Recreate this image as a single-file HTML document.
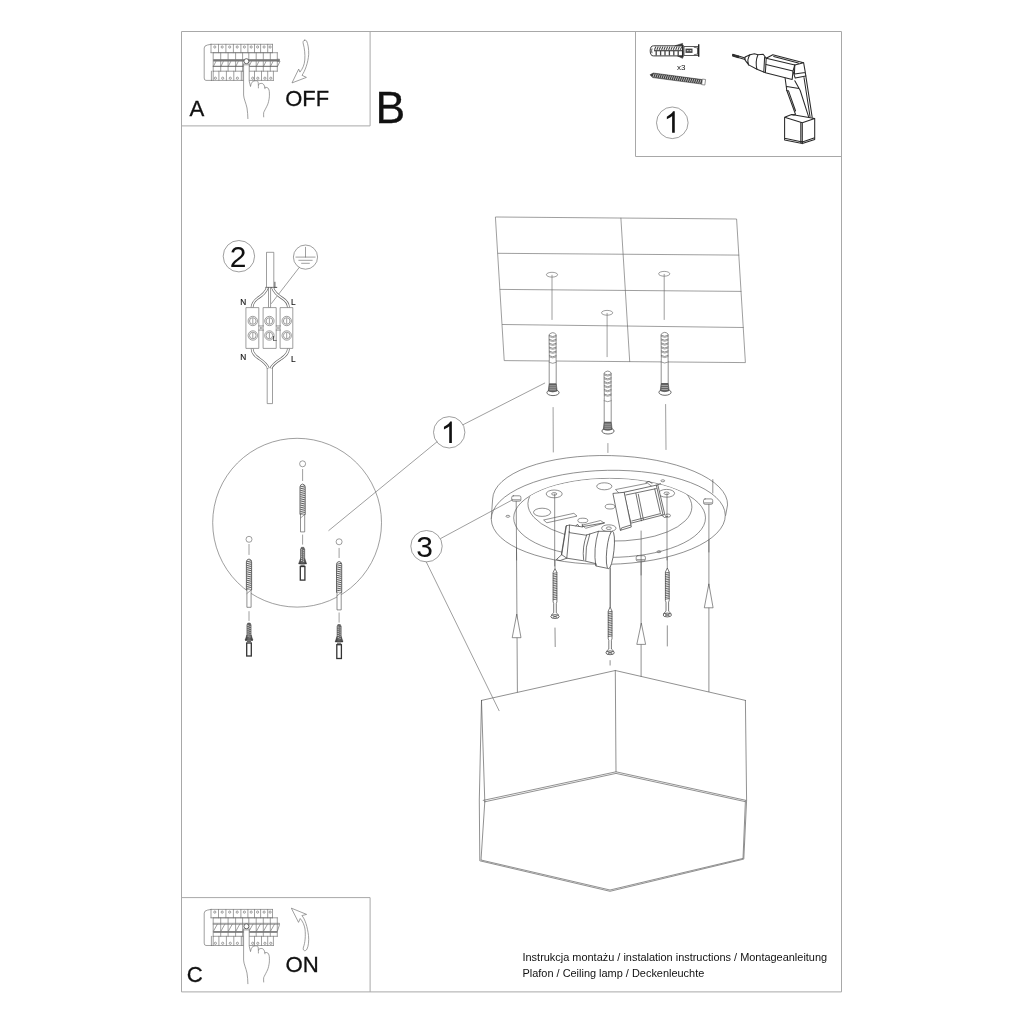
<!DOCTYPE html>
<html><head><meta charset="utf-8">
<style>
html,body{margin:0;padding:0;background:#fff;}
svg{display:block;position:absolute;left:0;top:0;will-change:transform;}
text{font-family:"Liberation Sans",sans-serif;fill:#111;}
.fr{stroke:#a8a8a8;stroke-width:1;fill:none;}
.l{stroke:#555;stroke-width:0.8;fill:none;stroke-linecap:round;stroke-linejoin:round;}
.lt{stroke:#6a6a6a;stroke-width:0.65;fill:none;stroke-linecap:round;stroke-linejoin:round;}
.lw{stroke:#6a6a6a;stroke-width:0.65;fill:#fff;stroke-linecap:round;stroke-linejoin:round;}
.b{stroke:#777;stroke-width:0.7;fill:none;stroke-linecap:round;stroke-linejoin:round;}
.bw{stroke:#777;stroke-width:0.7;fill:#fff;stroke-linecap:round;stroke-linejoin:round;}
.d{stroke:#2a2a2a;stroke-width:1.05;fill:none;stroke-linecap:round;stroke-linejoin:round;}
.g{fill:#777;stroke:none;}
circle,ellipse{stroke-linecap:butt !important;}
</style></head>
<body>
<svg width="1024" height="1024" viewBox="0 0 1024 1024">
<g class="fr" id="frame">
<path d="M181.5 31.5H841.5V991.9H181.5Z"/>
<path d="M181.5 125.9H370.1V31.5"/>
<path d="M635.5 31.5V156.5H841.5"/>
<path d="M181.5 897.6H370.1V991.9"/>
</g>
<g id="labels"><text transform="translate(189.6,116.1) scale(0.973,1)" font-size="22.8" stroke="#111" stroke-width="0.3">A</text><text transform="translate(285.2,106.4) scale(0.962,1)" font-size="22.8" stroke="#111" stroke-width="0.3">OFF</text><text transform="translate(186.7,982.2) scale(0.973,1)" font-size="22.8" stroke="#111" stroke-width="0.3">C</text><text transform="translate(285.4,972.1) scale(0.973,1)" font-size="22.8" stroke="#111" stroke-width="0.3">ON</text><text x="375.6" y="123.1" font-size="44.5" stroke="#111" stroke-width="0.3">B</text><text x="522.5" y="961.1" font-size="10.95">Instrukcja montażu / instalation instructions / Montageanleitung</text><text x="522.5" y="977.1" font-size="10.95">Plafon / Ceiling lamp / Deckenleuchte</text><text x="676.9" y="69.7" font-size="8" fill="#555">x3</text></g>
<g id="nums"><circle class="lt" cx="672.3" cy="122.8" r="15.8"/><path d="M763 0H583V1147Q518 1085 412.5 1023Q307 961 223 930V1104Q374 1175 487 1276Q600 1377 647 1472H763Z" fill="#111" transform="translate(663.58,132.8) scale(0.01465,-0.01465)"/><circle class="lt" cx="238.9" cy="256.2" r="15.7"/><text x="238.0" y="267.3" font-size="30" text-anchor="middle">2</text><circle class="lt" cx="449.2" cy="432.3" r="15.7"/><path d="M763 0H583V1147Q518 1085 412.5 1023Q307 961 223 930V1104Q374 1175 487 1276Q600 1377 647 1472H763Z" fill="#111" transform="translate(440.68,443.0) scale(0.01465,-0.01465)"/><circle class="lt" cx="426.5" cy="546.2" r="15.7"/><text x="424.7" y="556.6" font-size="30" text-anchor="middle">3</text></g>
<g id="boxA"><path class="b" d="M211 44.3 L207.5 45 Q204.2 45.6 204.2 48 V78 Q204.2 80.4 206 80.4 H211.4"/>
<path class="b" d="M211 44.3 H272.5 M211 52.7 H272.5 M211 44.3 V52.7 M218.5 44.3 V52.7 M225.9 44.3 V52.7 M233.4 44.3 V52.7 M240.9 44.3 V52.7 M247.9 44.3 V52.7 M254.5 44.3 V52.7 M260.6 44.3 V52.7 M267.7 44.3 V52.7 M272.5 44.3 V52.7"/>
<circle class="b" cx="214.8" cy="47" r="1.1"/>
<circle class="b" cx="222.2" cy="47" r="1.1"/>
<circle class="b" cx="229.7" cy="47" r="1.1"/>
<circle class="b" cx="237.2" cy="47" r="1.1"/>
<circle class="b" cx="244.4" cy="47" r="1.1"/>
<circle class="b" cx="251.2" cy="47" r="1.1"/>
<circle class="b" cx="257.6" cy="47" r="1.1"/>
<circle class="b" cx="264.1" cy="47" r="1.1"/>
<circle class="b" cx="270.1" cy="47" r="1.1"/>
<path class="b" d="M213.2 52.7 H277.3 M213.2 52.7 V71.2 M220.7 52.7 V71.2 M228.1 52.7 V71.2 M235.6 52.7 V71.2 M242.6 52.7 V71.2 M248.8 52.7 V71.2 M256.2 52.7 V71.2 M263.3 52.7 V71.2 M270.3 52.7 V71.2 M277.3 52.7 V71.2 M213.2 71.2 H277.3"/>
<rect class="g" x="213.2" y="59.2" width="66.2" height="2.3"/>
<path class="b" d="M277.3 59.2 H279.5 V61.5 H277.3"/>
<path class="b" style="stroke:#555;stroke-width:0.9" d="M213.2 66.3 H277.3"/>
<path class="b" d="M213.5 66.3 L215.79999999999998 61.5 M221.0 66.3 L223.29999999999998 61.5 M228.4 66.3 L230.7 61.5 M235.9 66.3 L238.2 61.5 M242.9 66.3 L245.2 61.5 M249.10000000000002 66.3 L251.4 61.5 M256.5 66.3 L258.8 61.5 M263.6 66.3 L265.90000000000003 61.5 M270.6 66.3 L272.90000000000003 61.5 M277.6 66.3 L279.90000000000003 61.5"/>
<path class="b" d="M211.4 80.4 H273.4 M211.4 71.2 V80.4 M213.2 71.2 V80.4 M218.9 71.2 V80.4 M226.4 71.2 V80.4 M233.8 71.2 V80.4 M241.3 71.2 V80.4 M243.1 71.2 V80.4 M254.5 71.2 V80.4 M261.5 71.2 V80.4 M267.7 71.2 V80.4 M273.4 71.2 V80.4"/>
<circle class="b" cx="215.4" cy="78.2" r="1.1"/>
<circle class="b" cx="222.7" cy="78.2" r="1.1"/>
<circle class="b" cx="230.3" cy="78.2" r="1.1"/>
<circle class="b" cx="237.4" cy="78.2" r="1.1"/>
<circle class="b" cx="252.7" cy="78.2" r="1.1"/>
<circle class="b" cx="257.8" cy="78.2" r="1.1"/>
<circle class="b" cx="264.9" cy="78.2" r="1.1"/>
<circle class="b" cx="270.8" cy="78.2" r="1.1"/>
<path class="bw" d="M243.6 63.5 V95 C243.8 99 246 103 247 108 C247.6 112 247.8 115 247.9 118.6 L263.7 117 C263.6 114 264.5 111 266 108.5 C268 105 269.3 100 269.5 93.5 C269.6 90.5 268.5 88 266.8 87.6 C265.2 83.6 262 83.2 261.2 84.2 C259 80 255 80.2 252.5 81.6 L250.5 86 L249.2 80 V63.5 Z" style="stroke:none"/>
<path class="b" d="M243.6 63.8 V95 C243.8 99 246 103 247 108 C247.6 112 247.8 115 247.9 118.6"/>
<path class="b" d="M249.2 63.8 V81 L250.5 86.5 C251 84 251.6 82.3 252.7 81.7 C254.2 80.6 256 80.5 257.3 81 C258.3 81.6 258.4 83 258.4 87.9 M258.6 85 C258.8 83.8 259.3 83.7 260 83.6 C261.2 83.2 262.6 83.3 263.4 84.2 C264.3 85.2 264.8 86.5 265 88.7 M264.8 87.5 C265.6 87.2 266.8 87.3 267.8 87.9 C269 89 269.4 91 269.4 93.1 C269.5 96 269.3 98 269 99.3 C268.5 102.5 267.8 104.5 266.8 106.3 C265.5 109 264.3 111 263.7 112.5 C263.5 114 263.6 115.5 263.7 116.9"/>
<circle class="bw" cx="246.4" cy="61.2" r="2.5" style="stroke:#555;stroke-width:0.9"/>
<path class="b" d="M243.9 64.8 H249"/>
<path class="b" d="M304.6 40.2 C303 40.5 302.8 42 303.3 44 C304.5 48 305.2 54 304.8 60 C304.4 65 302.5 69 299.9 72.1 L298.7 69.1 L292 82.9 L306.4 77.4 L302 75.3 C305 71 308 63 308.7 54.5 C308.9 49 308 44 306.6 41 C306.2 40.3 305.4 40 304.6 40.2 Z"/>
</g>
<g id="boxC"><g transform="translate(0,865.1)"><path class="b" d="M211 44.3 L207.5 45 Q204.2 45.6 204.2 48 V78 Q204.2 80.4 206 80.4 H211.4"/>
<path class="b" d="M211 44.3 H272.5 M211 52.7 H272.5 M211 44.3 V52.7 M218.5 44.3 V52.7 M225.9 44.3 V52.7 M233.4 44.3 V52.7 M240.9 44.3 V52.7 M247.9 44.3 V52.7 M254.5 44.3 V52.7 M260.6 44.3 V52.7 M267.7 44.3 V52.7 M272.5 44.3 V52.7"/>
<circle class="b" cx="214.8" cy="47" r="1.1"/>
<circle class="b" cx="222.2" cy="47" r="1.1"/>
<circle class="b" cx="229.7" cy="47" r="1.1"/>
<circle class="b" cx="237.2" cy="47" r="1.1"/>
<circle class="b" cx="244.4" cy="47" r="1.1"/>
<circle class="b" cx="251.2" cy="47" r="1.1"/>
<circle class="b" cx="257.6" cy="47" r="1.1"/>
<circle class="b" cx="264.1" cy="47" r="1.1"/>
<circle class="b" cx="270.1" cy="47" r="1.1"/>
<path class="b" d="M213.2 52.7 H277.3 M213.2 52.7 V71.2 M220.7 52.7 V71.2 M228.1 52.7 V71.2 M235.6 52.7 V71.2 M242.6 52.7 V71.2 M248.8 52.7 V71.2 M256.2 52.7 V71.2 M263.3 52.7 V71.2 M270.3 52.7 V71.2 M277.3 52.7 V71.2 M213.2 71.2 H277.3"/>
<path class="b" d="M213.2 58.2 H279.5 V59.6 L277.4 66 M213.2 59.2 H279"/>
<rect class="g" x="213.2" y="66" width="64.2" height="1.7"/>
<path class="b" d="M213.5 66 L217.39999999999998 59 M221.0 66 L224.89999999999998 59 M228.4 66 L232.29999999999998 59 M235.9 66 L239.79999999999998 59 M242.9 66 L246.79999999999998 59 M249.10000000000002 66 L253.0 59 M256.5 66 L260.4 59 M263.6 66 L267.5 59 M270.6 66 L274.5 59"/>
<path class="b" d="M211.4 80.4 H273.4 M211.4 71.2 V80.4 M213.2 71.2 V80.4 M218.9 71.2 V80.4 M226.4 71.2 V80.4 M233.8 71.2 V80.4 M241.3 71.2 V80.4 M243.1 71.2 V80.4 M254.5 71.2 V80.4 M261.5 71.2 V80.4 M267.7 71.2 V80.4 M273.4 71.2 V80.4"/>
<circle class="b" cx="215.4" cy="78.2" r="1.1"/>
<circle class="b" cx="222.7" cy="78.2" r="1.1"/>
<circle class="b" cx="230.3" cy="78.2" r="1.1"/>
<circle class="b" cx="237.4" cy="78.2" r="1.1"/>
<circle class="b" cx="252.7" cy="78.2" r="1.1"/>
<circle class="b" cx="257.8" cy="78.2" r="1.1"/>
<circle class="b" cx="264.9" cy="78.2" r="1.1"/>
<circle class="b" cx="270.8" cy="78.2" r="1.1"/>
<path class="bw" d="M243.6 63.5 V95 C243.8 99 246 103 247 108 C247.6 112 247.8 115 247.9 118.6 L263.7 117 C263.6 114 264.5 111 266 108.5 C268 105 269.3 100 269.5 93.5 C269.6 90.5 268.5 88 266.8 87.6 C265.2 83.6 262 83.2 261.2 84.2 C259 80 255 80.2 252.5 81.6 L250.5 86 L249.2 80 V63.5 Z" style="stroke:none"/>
<path class="b" d="M243.6 63.8 V95 C243.8 99 246 103 247 108 C247.6 112 247.8 115 247.9 118.6"/>
<path class="b" d="M249.2 63.8 V81 L250.5 86.5 C251 84 251.6 82.3 252.7 81.7 C254.2 80.6 256 80.5 257.3 81 C258.3 81.6 258.4 83 258.4 87.9 M258.6 85 C258.8 83.8 259.3 83.7 260 83.6 C261.2 83.2 262.6 83.3 263.4 84.2 C264.3 85.2 264.8 86.5 265 88.7 M264.8 87.5 C265.6 87.2 266.8 87.3 267.8 87.9 C269 89 269.4 91 269.4 93.1 C269.5 96 269.3 98 269 99.3 C268.5 102.5 267.8 104.5 266.8 106.3 C265.5 109 264.3 111 263.7 112.5 C263.5 114 263.6 115.5 263.7 116.9"/>
<circle class="bw" cx="246.4" cy="61.2" r="2.5" style="stroke:#555;stroke-width:0.9"/>
<path class="b" d="M243.9 64.8 H249"/></g>
<path class="b" d="M291.7 908.3 L306.6 914.4 L301.9 915.6 C305 919 307.5 927 308.5 935.5 C309 941 308.5 946 307 949 C306.3 950.5 305 951 304.3 950.6 C303 950 303 948.5 303.5 947 C305 943 305.8 936 305 929 C304.3 925 302.8 921.5 300.2 918.5 L298.7 922 Z"/>
</g>
<g id="box1"><path d="M653.5 45.8 H682.6 V55.9 H653.5 Q650.2 55.9 650.2 50.8 Q650.2 45.8 653.5 45.8 Z" fill="#fff" stroke="#3a3a3a" stroke-width="1.0"/>
<path d="M654 50.6 H682" stroke="#555" stroke-width="1.4" fill="none"/>
<path d="M654.50 49.8 L655.90 46.6 M656.85 49.8 L658.25 46.6 M659.20 49.8 L660.60 46.6 M661.55 49.8 L662.95 46.6 M663.90 49.8 L665.30 46.6 M666.25 49.8 L667.65 46.6 M668.60 49.8 L670.00 46.6 M670.95 49.8 L672.35 46.6 M673.30 49.8 L674.70 46.6 M675.65 49.8 L677.05 46.6 M678.00 49.8 L679.40 46.6 M680.35 49.8 L681.75 46.6" stroke="#444" stroke-width="1.1" fill="none"/>
<path d="M656.20 51 V55.4 M660.60 51 V55.4 M665.00 51 V55.4 M669.40 51 V55.4 M673.80 51 V55.4 M678.20 51 V55.4 M682.60 51 V55.4" stroke="#444" stroke-width="1.3" fill="none"/>
<path d="M652 48.4 Q651.2 50.8 652 53.2" stroke="#444" stroke-width="0.9" fill="none"/>
<path d="M675 45.8 L682.6 43.4 V45.8 Z M677.5 55.9 L682.6 58.3 V55.9 Z" fill="#333" stroke="#333" stroke-width="0.6"/>
<path d="M682.9 45 V57.2" stroke="#222" stroke-width="1.3" fill="none"/>
<rect x="684" y="46.6" width="14" height="8.8" fill="#fff" stroke="#333" stroke-width="0.8"/>
<rect x="685.5" y="48.6" width="7" height="4.3" fill="#444"/>
<path d="M686.8 50.7 H688.6 M689.6 50.7 H691.4" stroke="#fff" stroke-width="0.9"/>
<path d="M693.8 47.2 L697.6 48 V54 L693.8 54.8" stroke="#333" stroke-width="0.7" fill="none"/>
<path d="M698.7 44.2 V56.8" stroke="#222" stroke-width="1.4" fill="none"/>
<g transform="translate(650,74.8) rotate(7.6)">
<path d="M0 0 L3 -2.2 H52.5 V2.4 H3 Z" fill="#3a3a3a" stroke="#333" stroke-width="0.5"/>
<path d="M4.00 -1.7 L3.20 1.9 M6.05 -1.7 L5.25 1.9 M8.10 -1.7 L7.30 1.9 M10.15 -1.7 L9.35 1.9 M12.20 -1.7 L11.40 1.9 M14.25 -1.7 L13.45 1.9 M16.30 -1.7 L15.50 1.9 M18.35 -1.7 L17.55 1.9 M20.40 -1.7 L19.60 1.9 M22.45 -1.7 L21.65 1.9 M24.50 -1.7 L23.70 1.9 M26.55 -1.7 L25.75 1.9 M28.60 -1.7 L27.80 1.9 M30.65 -1.7 L29.85 1.9 M32.70 -1.7 L31.90 1.9 M34.75 -1.7 L33.95 1.9 M36.80 -1.7 L36.00 1.9 M38.85 -1.7 L38.05 1.9 M40.90 -1.7 L40.10 1.9 M42.95 -1.7 L42.15 1.9 M45.00 -1.7 L44.20 1.9 M47.05 -1.7 L46.25 1.9 M49.10 -1.7 L48.30 1.9 M51.15 -1.7 L50.35 1.9" stroke="#ddd" stroke-width="0.75" fill="none"/>
<rect x="52.5" y="-2.7" width="3.2" height="5.6" fill="#fff" stroke="#555" stroke-width="0.6"/>
</g>
<g class="d">
<path d="M738.5 56 L745.1 58 M738.3 57.6 L745.1 59.4"/>
<path d="M732.7 54.2 L738.5 55.9 L738.3 57.8 L732.6 56 Z" fill="#333"/>
<path d="M745.1 57 L750 54.8 M745.1 60.1 L748.7 64.9 M745.1 57 Q744.5 58.5 745.1 60.1 M750 54.8 Q746.6 59.5 748.7 64.9"/>
<path d="M750 54.8 L754.4 53.7 L757.9 54.8 M748.7 64.9 L757 69.3 M757.9 54.8 Q755 62 757 69.3"/>
<path d="M757.9 54.8 L763.2 54.3 L766.2 58.3 M757 69.3 L764.9 72.4"/>
<path d="M766.2 58.3 L794.8 64.9 L793 71 L792.2 79.4 L765.4 72.8 Z M764.6 57.2 L763.8 72"/>
<path d="M766 64.5 L793 71"/>
<path d="M766.2 58.3 L772.8 54.8 L803.6 62.7 L794.8 64.9 M773.7 56.5 L798.3 63.1"/>
<path d="M803.6 62.7 L805.3 72.4 L794.4 74.1 M794.8 64.9 L794.4 74.1 M805.3 72.4 L805.8 75.9 L795.2 78.1 L793.2 72"/>
<path d="M785.1 78 L786.8 90.5 L795.4 114.1 M805.8 75.9 L812.2 117.3 M794.8 80.8 L800.2 90.5 L808.8 117.3 M786.8 86.5 L799 88.6 M786.5 90.5 L788.5 90.8 L795.6 111 M804 77.5 L810 116.5"/>
<path d="M795.4 114.1 Q794.5 115.3 791.6 114.6"/>
<path d="M784.6 117.3 L791.6 114.6 L814.7 118.4 L802.3 122.7 Z M784.6 117.3 V139.9 L802.3 143.6 L814.7 139.4 V118.4 M802.3 122.7 V143.6 M784.6 138.3 L802.3 142 L814.7 137.8 M800.8 122.6 V143.2"/>
</g></g>
<g id="wiring"><circle class="lt" cx="305.5" cy="257.1" r="12.1"/>
<path class="lt" d="M305.5 247.3 V257.1 M295.9 257.1 H315.1 M298.8 260.3 H312.2 M301.6 263.3 H309.4"/>
<path class="lt" d="M299.2 267.5 L271.4 303.5"/>
<path class="lt" d="M266.5 287.4 V252.3 H273.8 V287.4"/>
<path class="lt" style="stroke:#444;stroke-width:0.9" d="M265.8 287.4 H276.8 M274.9 282.2 V287.2"/>
<path d="M267.3 287.8 C265.5 293 262 295.5 258 298 C254.5 300.5 252.2 303.5 252 307.6" stroke="#666" stroke-width="2.7" fill="none"/>
<path d="M272.6 287.8 C274.5 293 278 295.5 282 298 C286 300.5 288.3 303.5 288.5 307.6" stroke="#666" stroke-width="2.7" fill="none"/>
<path d="M269.7 287.8 V307.6" stroke="#666" stroke-width="2.7" fill="none"/>
<path d="M252 348.4 C252.3 353 255 356 259 358.5 C263.5 361.5 267 364 268.3 368.4" stroke="#666" stroke-width="2.7" fill="none"/>
<path d="M288.5 348.4 C288.2 353 285.5 356 281.5 358.5 C277 361.5 272.5 364 270.9 368.4" stroke="#666" stroke-width="2.7" fill="none"/>
<path d="M267.3 287.8 C265.5 293 262 295.5 258 298 C254.5 300.5 252.2 303.5 252 307.6" stroke="#fff" stroke-width="1.4" fill="none"/>
<path d="M272.6 287.8 C274.5 293 278 295.5 282 298 C286 300.5 288.3 303.5 288.5 307.6" stroke="#fff" stroke-width="1.4" fill="none"/>
<path d="M269.7 287.8 V307.6" stroke="#fff" stroke-width="1.4" fill="none"/>
<path d="M252 348.4 C252.3 353 255 356 259 358.5 C263.5 361.5 267 364 268.3 368.4" stroke="#fff" stroke-width="1.4" fill="none"/>
<path d="M288.5 348.4 C288.2 353 285.5 356 281.5 358.5 C277 361.5 272.5 364 270.9 368.4" stroke="#fff" stroke-width="1.4" fill="none"/>
<path class="lt" d="M267.2 368.4 V403.6 H272.5 V368.4"/>
<rect class="lw" x="246.3" y="307.6" width="12.5" height="40.8"/>
<rect class="lw" x="263.5" y="307.6" width="12.7" height="40.8"/>
<rect class="lw" x="280.5" y="307.6" width="12.3" height="40.8"/>
<circle class="lt" cx="252.8" cy="321" r="4.7"/>
<circle class="lt" cx="252.8" cy="321" r="3.3"/>
<path class="lt" d="M252.8 318.6 V323.4"/>
<circle class="lt" cx="252.8" cy="335.5" r="4.7"/>
<circle class="lt" cx="252.8" cy="335.5" r="3.3"/>
<path class="lt" d="M252.8 333.1 V337.9"/>
<circle class="lt" cx="269.4" cy="321" r="4.7"/>
<circle class="lt" cx="269.4" cy="321" r="3.3"/>
<path class="lt" d="M269.4 318.6 V323.4"/>
<circle class="lt" cx="269.4" cy="335.5" r="4.7"/>
<circle class="lt" cx="269.4" cy="335.5" r="3.3"/>
<path class="lt" d="M269.4 333.1 V337.9"/>
<circle class="lt" cx="286.7" cy="321" r="4.7"/>
<circle class="lt" cx="286.7" cy="321" r="3.3"/>
<path class="lt" d="M286.7 318.6 V323.4"/>
<circle class="lt" cx="286.7" cy="335.5" r="4.7"/>
<circle class="lt" cx="286.7" cy="335.5" r="3.3"/>
<path class="lt" d="M286.7 333.1 V337.9"/>
<path class="lt" d="M258.8 325.9 H263.5 M258.8 330.1 H263.5 M260.6 327.2 V328.8 M261.8 327.2 V328.8 M276.2 325.9 H280.5 M276.2 330.1 H280.5 M277.8 327.2 V328.8 M279 327.2 V328.8"/>
<g font-size="8.3" fill="#222" stroke="#222" stroke-width="0.15"><text x="240.2" y="305">N</text><text x="291.0" y="305">L</text><text x="240.2" y="359.5">N</text><text x="291.0" y="361.6">L</text></g>
<text x="272.8" y="341.3" font-size="7.5" fill="#333">L</text></g>
<g id="detail"><circle class="lt" cx="297.1" cy="522.7" r="84.4"/>
<circle class="lw" cx="302.6" cy="463.8" r="3"/>
<path class="lt" d="M302.6 469.4 V480.6 M302.6 535 V544.2"/>
<path d="M300.0 486.9 Q300.0 484.7 302.6 484.09999999999997 Q305.20000000000005 484.7 305.20000000000005 486.9 V514.5 H300.0 Z" fill="#fff" stroke="#555" stroke-width="0.9"/>
<path d="M300.3 486.90 L304.9 485.90 M300.3 488.80 L304.9 487.80 M300.3 490.70 L304.9 489.70 M300.3 492.60 L304.9 491.60 M300.3 494.50 L304.9 493.50 M300.3 496.40 L304.9 495.40 M300.3 498.30 L304.9 497.30 M300.3 500.20 L304.9 499.20 M300.3 502.10 L304.9 501.10 M300.3 504.00 L304.9 503.00 M300.3 505.90 L304.9 504.90 M300.3 507.80 L304.9 506.80 M300.3 509.70 L304.9 508.70 M300.3 511.60 L304.9 510.60 M300.3 513.50 L304.9 512.50" stroke="#555" stroke-width="0.95" fill="none"/>
<path class="lw" style="stroke:#555" d="M300.5 514.5 V531.9 H304.70000000000005 V514.5"/>
<path class="lt" d="M300.5 518.0 L304.70000000000005 514.5"/>
<path d="M301.40000000000003 547.3 H303.8 L304.7 549.3 V563 H300.50000000000006 V549.3 Z" fill="#666" stroke="#444" stroke-width="0.5"/>
<path d="M301.1 549.90 H302.2 M303.2 550.70 H304.1 M301.1 552.00 H302.2 M303.2 552.80 H304.1 M301.1 554.10 H302.2 M303.2 554.90 H304.1 M301.1 556.20 H302.2 M303.2 557.00 H304.1 M301.1 558.30 H302.2 M303.2 559.10 H304.1 M301.1 560.40 H302.2 M303.2 561.20 H304.1" stroke="#fff" stroke-width="0.8" fill="none"/>
<path d="M298.70000000000005 563.5 L300.50000000000006 558.5 V563.5 Z M306.5 563.5 L304.7 558.5 V563.5 Z" fill="#444" stroke="#444" stroke-width="0.5"/>
<path d="M298.70000000000005 563.7 H306.5" stroke="#333" stroke-width="1"/>
<rect x="300.3" y="566.5" width="4.6000000000000005" height="13.600000000000023" fill="#fff" stroke="#333" stroke-width="1.3"/>
<path d="M300.50000000000006 565.2 H304.7" stroke="#444" stroke-width="1"/>
<circle class="lw" cx="249.0" cy="539.3" r="3"/>
<path class="lt" d="M249.0 544.4 V554.5 M249.0 611.6 V620.5"/>
<path d="M246.4 561.8000000000001 Q246.4 559.6 249.0 559.0 Q251.6 559.6 251.6 561.8000000000001 V590 H246.4 Z" fill="#fff" stroke="#555" stroke-width="0.9"/>
<path d="M246.7 561.80 L251.3 560.80 M246.7 563.70 L251.3 562.70 M246.7 565.60 L251.3 564.60 M246.7 567.50 L251.3 566.50 M246.7 569.40 L251.3 568.40 M246.7 571.30 L251.3 570.30 M246.7 573.20 L251.3 572.20 M246.7 575.10 L251.3 574.10 M246.7 577.00 L251.3 576.00 M246.7 578.90 L251.3 577.90 M246.7 580.80 L251.3 579.80 M246.7 582.70 L251.3 581.70 M246.7 584.60 L251.3 583.60 M246.7 586.50 L251.3 585.50 M246.7 588.40 L251.3 587.40" stroke="#555" stroke-width="0.95" fill="none"/>
<path class="lw" style="stroke:#555" d="M246.9 590 V607.3 H251.1 V590"/>
<path class="lt" d="M246.9 593.5 L251.1 590"/>
<path d="M247.8 623 H250.2 L251.1 625 V639.5 H246.9 V625 Z" fill="#666" stroke="#444" stroke-width="0.5"/>
<path d="M247.5 625.60 H248.6 M249.6 626.40 H250.5 M247.5 627.70 H248.6 M249.6 628.50 H250.5 M247.5 629.80 H248.6 M249.6 630.60 H250.5 M247.5 631.90 H248.6 M249.6 632.70 H250.5 M247.5 634.00 H248.6 M249.6 634.80 H250.5 M247.5 636.10 H248.6 M249.6 636.90 H250.5" stroke="#fff" stroke-width="0.8" fill="none"/>
<path d="M245.10000000000002 640.0 L246.9 635.0 V640.0 Z M252.89999999999998 640.0 L251.1 635.0 V640.0 Z" fill="#444" stroke="#444" stroke-width="0.5"/>
<path d="M245.10000000000002 640.2 H252.89999999999998" stroke="#333" stroke-width="1"/>
<rect x="246.70000000000002" y="643" width="4.6000000000000005" height="13" fill="#fff" stroke="#333" stroke-width="1.3"/>
<path d="M246.9 641.7 H251.1" stroke="#444" stroke-width="1"/>
<circle class="lw" cx="339.1" cy="541.8" r="3"/>
<path class="lt" d="M339.1 548.3 V557.6 M339.1 612.9 V622.2"/>
<path d="M336.5 564.3000000000001 Q336.5 562.1 339.1 561.5 Q341.70000000000005 562.1 341.70000000000005 564.3000000000001 V592.4 H336.5 Z" fill="#fff" stroke="#555" stroke-width="0.9"/>
<path d="M336.8 564.30 L341.4 563.30 M336.8 566.20 L341.4 565.20 M336.8 568.10 L341.4 567.10 M336.8 570.00 L341.4 569.00 M336.8 571.90 L341.4 570.90 M336.8 573.80 L341.4 572.80 M336.8 575.70 L341.4 574.70 M336.8 577.60 L341.4 576.60 M336.8 579.50 L341.4 578.50 M336.8 581.40 L341.4 580.40 M336.8 583.30 L341.4 582.30 M336.8 585.20 L341.4 584.20 M336.8 587.10 L341.4 586.10 M336.8 589.00 L341.4 588.00 M336.8 590.90 L341.4 589.90" stroke="#555" stroke-width="0.95" fill="none"/>
<path class="lw" style="stroke:#555" d="M337.0 592.4 V609.9 H341.20000000000005 V592.4"/>
<path class="lt" d="M337.0 595.9 L341.20000000000005 592.4"/>
<path d="M337.90000000000003 624.5 H340.3 L341.2 626.5 V641 H337.00000000000006 V626.5 Z" fill="#666" stroke="#444" stroke-width="0.5"/>
<path d="M337.6 627.10 H338.7 M339.7 627.90 H340.6 M337.6 629.20 H338.7 M339.7 630.00 H340.6 M337.6 631.30 H338.7 M339.7 632.10 H340.6 M337.6 633.40 H338.7 M339.7 634.20 H340.6 M337.6 635.50 H338.7 M339.7 636.30 H340.6 M337.6 637.60 H338.7 M339.7 638.40 H340.6" stroke="#fff" stroke-width="0.8" fill="none"/>
<path d="M335.20000000000005 641.5 L337.00000000000006 636.5 V641.5 Z M343.0 641.5 L341.2 636.5 V641.5 Z" fill="#444" stroke="#444" stroke-width="0.5"/>
<path d="M335.20000000000005 641.7 H343.0" stroke="#333" stroke-width="1"/>
<rect x="336.8" y="644.7" width="4.6000000000000005" height="13.799999999999955" fill="#fff" stroke="#333" stroke-width="1.3"/>
<path d="M337.00000000000006 643.2 H341.2" stroke="#444" stroke-width="1"/></g>
<g id="ceiling"><path class="lt" d="M495.8 217 L736.6 219 L745.4 362.6 L504.6 360.6 Z M498.0 253.3 L738.8 255.1 M500.2 289.4 L741.0 291.4 M502.4 324.5 L743.2 327.5 M620.9 218.2 L629.7 361.6"/>
<ellipse class="lw" cx="552" cy="274.7" rx="5.6" ry="2.4"/>
<path class="lt" d="M552 275.2 V319.5"/>
<ellipse class="lw" cx="664.2" cy="273.8" rx="5.6" ry="2.4"/>
<path class="lt" d="M664.2 274.3 V319.5"/>
<ellipse class="lw" cx="607.1" cy="312.8" rx="5.6" ry="2.4"/>
<path class="lt" d="M607.1 313.3 V356.7"/></g>
<g id="cplugs"><path class="lw" style="stroke:#555" d="M549.3 334.4 Q552.7 330.79999999999995 556.1000000000001 334.4 V359.4 L556.2 362.4 V383.9 H549.2 V362.4 L549.3 359.4 Z"/>
<path class="lt" style="stroke:#555" d="M549.3 335.59999999999997 Q552.7 337.79999999999995 556.1000000000001 335.59999999999997"/>
<path class="lt" style="stroke:#777" d="M549.3 336.79999999999995 Q552.7 338.79999999999995 556.1000000000001 336.79999999999995"/>
<path class="lt" style="stroke:#555" d="M549.3 339.5 Q552.7 341.7 556.1000000000001 339.5"/>
<path class="lt" style="stroke:#777" d="M549.3 340.7 Q552.7 342.7 556.1000000000001 340.7"/>
<path class="lt" style="stroke:#555" d="M549.3 343.4 Q552.7 345.59999999999997 556.1000000000001 343.4"/>
<path class="lt" style="stroke:#777" d="M549.3 344.59999999999997 Q552.7 346.59999999999997 556.1000000000001 344.59999999999997"/>
<path class="lt" style="stroke:#555" d="M549.3 347.29999999999995 Q552.7 349.49999999999994 556.1000000000001 347.29999999999995"/>
<path class="lt" style="stroke:#777" d="M549.3 348.49999999999994 Q552.7 350.49999999999994 556.1000000000001 348.49999999999994"/>
<path class="lt" style="stroke:#555" d="M549.3 351.29999999999995 Q552.7 353.49999999999994 556.1000000000001 351.29999999999995"/>
<path class="lt" style="stroke:#777" d="M549.3 352.49999999999994 Q552.7 354.49999999999994 556.1000000000001 352.49999999999994"/>
<path class="lt" style="stroke:#555" d="M549.3 355.79999999999995 Q552.7 357.99999999999994 556.1000000000001 355.79999999999995"/>
<path class="lt" style="stroke:#777" d="M549.3 356.99999999999994 Q552.7 358.99999999999994 556.1000000000001 356.99999999999994"/>
<path class="lt" d="M549.2 362.4 Q552.7 364.4 556.2 362.4"/>
<ellipse class="lw" style="stroke:#444;stroke-width:0.8" cx="553.0" cy="392.59999999999997" rx="6.1" ry="3"/>
<path d="M549.1 383.9 H556.3000000000001 L557.1000000000001 391.0 Q552.7 392.9 548.3 391.0 Z" fill="#666" stroke="#444" stroke-width="0.6"/>
<path d="M549.5 385.79999999999995 H555.9000000000001 M549.5 387.79999999999995 H555.9000000000001 M549.5 389.79999999999995 H555.9000000000001" stroke="#ccc" stroke-width="0.6"/><path class="lw" style="stroke:#555" d="M661.3 334.1 Q664.7 330.5 668.1000000000001 334.1 V359.1 L668.2 362.1 V383.6 H661.2 V362.1 L661.3 359.1 Z"/>
<path class="lt" style="stroke:#555" d="M661.3 335.3 Q664.7 337.5 668.1000000000001 335.3"/>
<path class="lt" style="stroke:#777" d="M661.3 336.5 Q664.7 338.5 668.1000000000001 336.5"/>
<path class="lt" style="stroke:#555" d="M661.3 339.20000000000005 Q664.7 341.40000000000003 668.1000000000001 339.20000000000005"/>
<path class="lt" style="stroke:#777" d="M661.3 340.40000000000003 Q664.7 342.40000000000003 668.1000000000001 340.40000000000003"/>
<path class="lt" style="stroke:#555" d="M661.3 343.1 Q664.7 345.3 668.1000000000001 343.1"/>
<path class="lt" style="stroke:#777" d="M661.3 344.3 Q664.7 346.3 668.1000000000001 344.3"/>
<path class="lt" style="stroke:#555" d="M661.3 347.0 Q664.7 349.2 668.1000000000001 347.0"/>
<path class="lt" style="stroke:#777" d="M661.3 348.2 Q664.7 350.2 668.1000000000001 348.2"/>
<path class="lt" style="stroke:#555" d="M661.3 351.0 Q664.7 353.2 668.1000000000001 351.0"/>
<path class="lt" style="stroke:#777" d="M661.3 352.2 Q664.7 354.2 668.1000000000001 352.2"/>
<path class="lt" style="stroke:#555" d="M661.3 355.5 Q664.7 357.7 668.1000000000001 355.5"/>
<path class="lt" style="stroke:#777" d="M661.3 356.7 Q664.7 358.7 668.1000000000001 356.7"/>
<path class="lt" d="M661.2 362.1 Q664.7 364.1 668.2 362.1"/>
<ellipse class="lw" style="stroke:#444;stroke-width:0.8" cx="665.0" cy="392.3" rx="6.1" ry="3"/>
<path d="M661.1 383.6 H668.3000000000001 L669.1000000000001 390.70000000000005 Q664.7 392.6 660.3 390.70000000000005 Z" fill="#666" stroke="#444" stroke-width="0.6"/>
<path d="M661.5 385.5 H667.9000000000001 M661.5 387.5 H667.9000000000001 M661.5 389.5 H667.9000000000001" stroke="#ccc" stroke-width="0.6"/><path class="lw" style="stroke:#555" d="M604.3 372.8 Q607.7 369.2 611.1000000000001 372.8 V397.8 L611.2 400.8 V422.3 H604.2 V400.8 L604.3 397.8 Z"/>
<path class="lt" style="stroke:#555" d="M604.3 374.0 Q607.7 376.2 611.1000000000001 374.0"/>
<path class="lt" style="stroke:#777" d="M604.3 375.2 Q607.7 377.2 611.1000000000001 375.2"/>
<path class="lt" style="stroke:#555" d="M604.3 377.90000000000003 Q607.7 380.1 611.1000000000001 377.90000000000003"/>
<path class="lt" style="stroke:#777" d="M604.3 379.1 Q607.7 381.1 611.1000000000001 379.1"/>
<path class="lt" style="stroke:#555" d="M604.3 381.8 Q607.7 384.0 611.1000000000001 381.8"/>
<path class="lt" style="stroke:#777" d="M604.3 383.0 Q607.7 385.0 611.1000000000001 383.0"/>
<path class="lt" style="stroke:#555" d="M604.3 385.7 Q607.7 387.9 611.1000000000001 385.7"/>
<path class="lt" style="stroke:#777" d="M604.3 386.9 Q607.7 388.9 611.1000000000001 386.9"/>
<path class="lt" style="stroke:#555" d="M604.3 389.7 Q607.7 391.9 611.1000000000001 389.7"/>
<path class="lt" style="stroke:#777" d="M604.3 390.9 Q607.7 392.9 611.1000000000001 390.9"/>
<path class="lt" style="stroke:#555" d="M604.3 394.2 Q607.7 396.4 611.1000000000001 394.2"/>
<path class="lt" style="stroke:#777" d="M604.3 395.4 Q607.7 397.4 611.1000000000001 395.4"/>
<path class="lt" d="M604.2 400.8 Q607.7 402.8 611.2 400.8"/>
<ellipse class="lw" style="stroke:#444;stroke-width:0.8" cx="608.0" cy="431.0" rx="6.1" ry="3"/>
<path d="M604.1 422.3 H611.3000000000001 L612.1000000000001 429.40000000000003 Q607.7 431.3 603.3 429.40000000000003 Z" fill="#666" stroke="#444" stroke-width="0.6"/>
<path d="M604.5 424.2 H610.9000000000001 M604.5 426.2 H610.9000000000001 M604.5 428.2 H610.9000000000001" stroke="#ccc" stroke-width="0.6"/><path class="lt" d="M553.1 407.5 L553.3 452 M665.6 404.5 L666 449.5 M607.9 443.5 V452.5"/></g>
<g id="hex"><path class="lt" style="stroke:#555" d="M481.5 700.4 L615.3 670.5 L745.4 700.4 M615.3 670.5 L616 771.8 M481.5 700.4 L479.3 800 L479.8 860.8 L610 891.3 L743.8 859.1 L746.6 800.4 L745.4 700.4"/>
<path class="lt" style="stroke:#555" d="M483.2 800.4 L616 771.8 L746.1 800.4 M484.8 801.8 L616 773.4 L745 801.6"/>
<path class="lt" style="stroke:#555" d="M484.8 801.8 L481 860 L610 890 L743 858.4 L745.4 801 M481.5 700.4 L484.8 801.8"/></g>
<g id="below"><path class="lt" style="stroke:#555" d="M516.2 501 L517.4 692 M641.1 531 V676.3 M708.9 503.5 V691.6"/>
<path class="lt" style="stroke:#555" d="M554.7 494 L555 568 M610.2 528 V607 M667 493.5 L667.3 568"/>
<path class="lt" style="stroke:#555" d="M555 628 L555.2 646.6 M610.1 660.6 V665.1 M667.3 625.8 V646"/>
<path class="lw" style="stroke:#555" d="M516.8 614.5 L521.0 637.7 H512.5999999999999 Z"/>
<path class="lw" style="stroke:#555" d="M641.4 623.5 L645.6 644.4 H637.1999999999999 Z"/>
<path class="lw" style="stroke:#555" d="M708.9 584.2 L713.1 607.8 H704.6999999999999 Z"/>
<path d="M555 568.5 L556.9 572.5 V601.89 L556.3 603.39 V612.8000000000001 L559 615.4000000000001 H551 L553.7 612.8000000000001 V603.39 L553.1 601.89 V572.5 Z" fill="#fff" stroke="#444" stroke-width="0.7" stroke-linejoin="round"/>
<path d="M552.8 573.50 L557.2 572.70 M552.8 575.25 L557.2 574.45 M552.8 577.00 L557.2 576.20 M552.8 578.75 L557.2 577.95 M552.8 580.50 L557.2 579.70 M552.8 582.25 L557.2 581.45 M552.8 584.00 L557.2 583.20 M552.8 585.75 L557.2 584.95 M552.8 587.50 L557.2 586.70 M552.8 589.25 L557.2 588.45 M552.8 591.00 L557.2 590.20 M552.8 592.75 L557.2 591.95 M552.8 594.50 L557.2 593.70 M552.8 596.25 L557.2 595.45 M552.8 598.00 L557.2 597.20 M552.8 599.75 L557.2 598.95" stroke="#444" stroke-width="0.75" fill="none"/>
<ellipse cx="555" cy="616.6" rx="4.2" ry="1.9" fill="#fff" stroke="#444" stroke-width="0.8"/>
<path d="M552.8 615.8000000000001 L557.2 617.4000000000001 M557.2 615.8000000000001 L552.8 617.4000000000001" stroke="#444" stroke-width="0.7"/>
<path d="M610.1 607.1 L612.0 611.1 V638.81 L611.4 640.31 V649.0 L614.1 651.6 H606.1 L608.8000000000001 649.0 V640.31 L608.2 638.81 V611.1 Z" fill="#fff" stroke="#444" stroke-width="0.7" stroke-linejoin="round"/>
<path d="M607.9 612.10 L612.3 611.30 M607.9 613.85 L612.3 613.05 M607.9 615.60 L612.3 614.80 M607.9 617.35 L612.3 616.55 M607.9 619.10 L612.3 618.30 M607.9 620.85 L612.3 620.05 M607.9 622.60 L612.3 621.80 M607.9 624.35 L612.3 623.55 M607.9 626.10 L612.3 625.30 M607.9 627.85 L612.3 627.05 M607.9 629.60 L612.3 628.80 M607.9 631.35 L612.3 630.55 M607.9 633.10 L612.3 632.30 M607.9 634.85 L612.3 634.05 M607.9 636.60 L612.3 635.80" stroke="#444" stroke-width="0.75" fill="none"/>
<ellipse cx="610.1" cy="652.8" rx="4.2" ry="1.9" fill="#fff" stroke="#444" stroke-width="0.8"/>
<path d="M607.9 652.0 L612.3000000000001 653.6 M612.3000000000001 652.0 L607.9 653.6" stroke="#444" stroke-width="0.7"/>
<path d="M667.3 568 L669.1999999999999 572 V600.62 L668.5999999999999 602.12 V611.2 L671.3 613.8000000000001 H663.3 L666.0 611.2 V602.12 L665.4 600.62 V572 Z" fill="#fff" stroke="#444" stroke-width="0.7" stroke-linejoin="round"/>
<path d="M665.1 573.00 L669.5 572.20 M665.1 574.75 L669.5 573.95 M665.1 576.50 L669.5 575.70 M665.1 578.25 L669.5 577.45 M665.1 580.00 L669.5 579.20 M665.1 581.75 L669.5 580.95 M665.1 583.50 L669.5 582.70 M665.1 585.25 L669.5 584.45 M665.1 587.00 L669.5 586.20 M665.1 588.75 L669.5 587.95 M665.1 590.50 L669.5 589.70 M665.1 592.25 L669.5 591.45 M665.1 594.00 L669.5 593.20 M665.1 595.75 L669.5 594.95 M665.1 597.50 L669.5 596.70 M665.1 599.25 L669.5 598.45" stroke="#444" stroke-width="0.75" fill="none"/>
<ellipse cx="667.3" cy="615.0" rx="4.2" ry="1.9" fill="#fff" stroke="#444" stroke-width="0.8"/>
<path d="M665.0999999999999 614.2 L669.5 615.8000000000001 M669.5 614.2 L665.0999999999999 615.8000000000001" stroke="#444" stroke-width="0.7"/></g>
<g id="plate"><path class="lw" style="stroke:#555" d="M492.64 498.7 A117.5 46.2 1.5 0 1 727.56 504.9 L725.6 515.5 L491.6 519 Z"/>
<ellipse class="lw" style="stroke:#555" cx="608.3" cy="517.3" rx="117" ry="47" transform="rotate(-1.06 608.3 517.3)"/>
<path class="lt" style="stroke:#555" d="M712.8 479.6 V493"/>
<ellipse class="lw" style="stroke:#555" cx="609.6" cy="517.9" rx="95.9" ry="39.5"/>
<clipPath id="cpE3"><ellipse cx="609.6" cy="517.9" rx="95.6" ry="39.2"/></clipPath>
<g clip-path="url(#cpE3)"><ellipse class="lw" style="stroke:#555" cx="609.9" cy="505.3" rx="82" ry="35.8" transform="rotate(1.3 609.9 505.3)"/></g>
<rect class="lw" style="stroke:#555" x="511.7" y="495.8" width="9.2" height="5.4" rx="1.6"/>
<path class="lt" style="stroke:#555" d="M512.5 499.8 H520.1"/>
<rect class="lw" style="stroke:#555" x="703.5" y="498.9" width="9.2" height="5.4" rx="1.6"/>
<path class="lt" style="stroke:#555" d="M704.3 502.9 H711.9"/>
<rect class="lw" style="stroke:#555" x="636.2" y="555.7" width="9.2" height="5.4" rx="1.6"/>
<path class="lt" style="stroke:#555" d="M637.0 559.7 H644.6"/>
<ellipse class="lt" style="stroke:#555" cx="507.9" cy="516.3" rx="1.9" ry="1"/>
<ellipse class="lt" style="stroke:#555" cx="659" cy="551.7" rx="1.9" ry="1"/>
<ellipse class="lt" style="stroke:#555" cx="662.8" cy="480.8" rx="1.9" ry="1"/>
<ellipse class="lw" style="stroke:#555" cx="554.2" cy="493.9" rx="8" ry="3.9"/>
<ellipse class="lw" style="stroke:#555" cx="542.1" cy="512.3" rx="8.6" ry="4.1"/>
<ellipse class="lw" style="stroke:#555" cx="604.3" cy="486.3" rx="7.6" ry="3.5"/>
<ellipse class="lw" style="stroke:#555" cx="610" cy="506.6" rx="4.8" ry="2.4"/>
<ellipse class="lw" style="stroke:#555" cx="582.8" cy="520.5" rx="5" ry="2.3"/>
<ellipse class="lw" style="stroke:#555" cx="608.8" cy="528.2" rx="7.2" ry="3.4"/>
<ellipse class="lw" style="stroke:#555" cx="666.6" cy="493.3" rx="8" ry="3.9"/>
<ellipse class="lw" style="stroke:#555" cx="667.9" cy="515.6" rx="2.6" ry="1.6"/>
<ellipse class="lt" style="stroke:#555" cx="554.2" cy="493.9" rx="2.6" ry="1.3"/>
<ellipse class="lt" style="stroke:#555" cx="608.8" cy="528.2" rx="2.6" ry="1.3"/>
<ellipse class="lt" style="stroke:#555" cx="666.6" cy="493.3" rx="2.6" ry="1.3"/>
<path class="lw" style="stroke:#555" d="M544 519.9 L573.9 513.3 L577 516.1 L547.2 522.7 Z M582.8 525 L600.5 520.5 L604.3 523.1 L585.9 528.2 Z M615.9 489.5 L647.6 483.2 L652.7 487 L619.7 493.3 Z"/><path class="lw" style="stroke:#444;stroke-width:0.75" d="M624.2 492.3 L657.8 484.8 L664.8 514.5 L631.3 523.1 Z"/>
<path class="lw" style="stroke:#444;stroke-width:0.75" d="M613.3 493.4 L624.2 492.3 L631.3 527 L620.7 530.2 Z"/>
<path class="lt" style="stroke:#444;stroke-width:0.75" d="M620.7 530.2 L621.4 528 L631 525"/>
<path class="lt" style="stroke:#444;stroke-width:0.75" d="M635.9 493.4 L641.4 520.8 M638.3 494.2 L643.4 519.6"/>
<path class="lt" style="stroke:#444;stroke-width:0.75" d="M625.8 495 L656.3 488.6 M654.7 488.9 L660.2 512.4 M656.3 485.2 L663 514.8 M631.8 521 L660.5 513.6"/>
<path class="lt" style="stroke:#444;stroke-width:0.75" d="M660.9 514.5 L664.5 517.5 L667.5 516.5"/>
<path class="lt" style="stroke:#444;stroke-width:0.75" d="M646 482.6 L649 481.4 L652 483.3 M657.8 484.8 L660.5 483.6"/><path class="lw" style="stroke:#444;stroke-width:0.75" d="M566.4 525.8 L569.5 525 L569.2 532.6 L586 535.2 L598.4 531.3 L610.9 531.3 Q614.6 549 607.8 568.4 L596 566 L596.1 563.7 L584.4 560.9 L566.8 558.2 L561.7 554.7 Z"/>
<path class="lt" style="stroke:#444;stroke-width:0.75" d="M566.4 525.8 L561.7 554.7 M569.3 531.5 L566.8 558 M561.7 554.7 L556.3 559.6 L560 560.6 L566.8 558.2"/>
<path class="lt" style="stroke:#444;stroke-width:0.75" d="M586.7 534.8 Q582 547 583.6 559.6 M589.8 534 Q585 547 585.7 560.4"/>
<path class="lt" style="stroke:#444;stroke-width:0.75" d="M598.4 531.3 Q593 549 595.8 565.8"/>
<ellipse class="lw" style="stroke:#444;stroke-width:0.75" cx="610.4" cy="550" rx="3.6" ry="18.9" transform="rotate(6 610.4 550)"/>
<path class="lt" style="stroke:#444;stroke-width:0.75" d="M569.5 525 L581.5 526.8 L604.5 522.8 M576 525.9 L577.4 524.2 L579 526.3 M582.3 524.4 V527"/></g>
<path class="lt" style="stroke:#555" d="M516.2 501.5 L516.6 560 M554.7 494 V566 M708.9 504.5 V552 M667 493.5 V560 M641.1 531 V575 M610.2 568.5 V607"/>
<path class="lt" id="leaders" d="M437 441.8 L328.8 530.5 M463.3 424.6 L544.7 383.1 M440.7 538.5 L512.5 499.8 M426.3 562 L499.1 710.7"/>
</svg>
</body></html>
